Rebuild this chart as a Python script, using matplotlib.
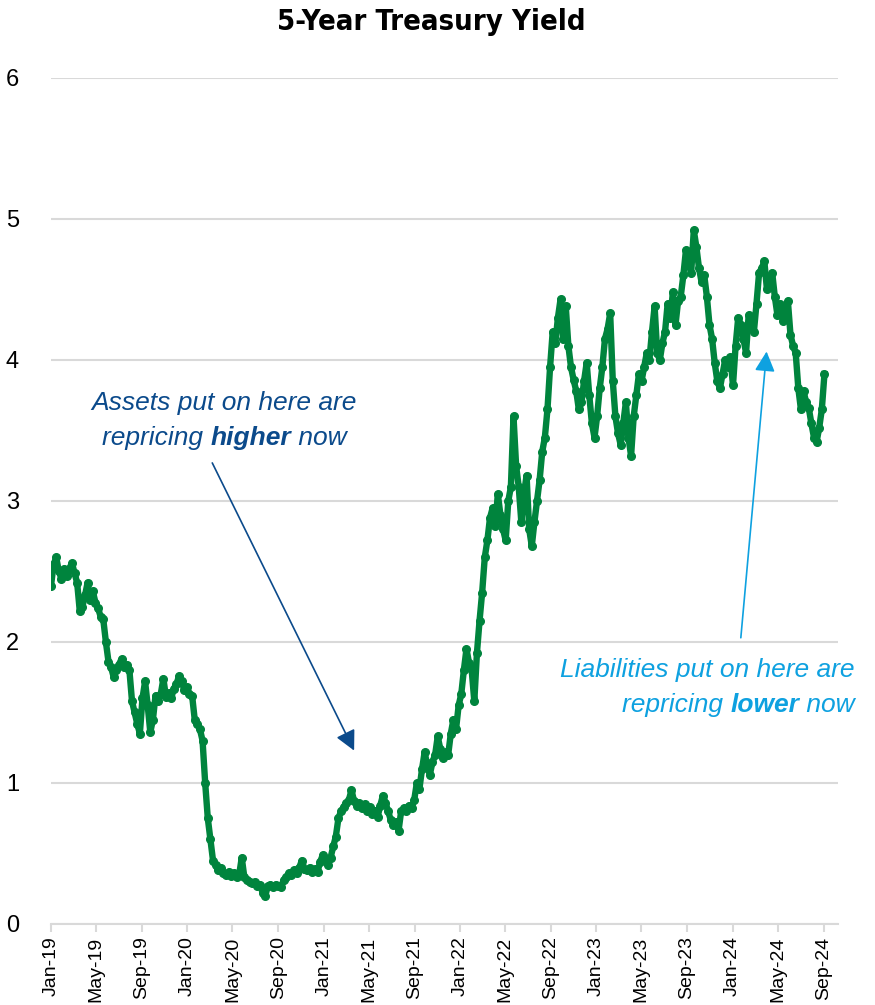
import numpy as np
import pandas as pd
import matplotlib
matplotlib.use("Agg")
import matplotlib.pyplot as plt
import matplotlib.dates as mdates
from matplotlib import font_manager
from matplotlib.offsetbox import TextArea, HPacker, VPacker, AnnotationBbox

# weekly 5-year treasury yield, %
y2019 = [2.40, 2.55, 2.60, 2.50, 2.45, 2.52, 2.47, 2.52, 2.56, 2.49, 2.42, 2.22, 2.25,
         2.33, 2.42, 2.30, 2.36, 2.28, 2.24, 2.18, 2.16, 2.00, 1.86, 1.82, 1.75, 1.80,
         1.84, 1.88, 1.82, 1.84, 1.80, 1.58, 1.50, 1.42, 1.35, 1.60, 1.72, 1.55, 1.36,
         1.45, 1.62, 1.58, 1.63, 1.74, 1.61, 1.64, 1.60, 1.67, 1.70, 1.76, 1.72, 1.66]
y2020 = [1.68, 1.63, 1.62, 1.45, 1.42, 1.38, 1.30, 1.00, 0.75, 0.60, 0.45, 0.42, 0.38,
         0.40, 0.36, 0.35, 0.37, 0.34, 0.36, 0.33, 0.35, 0.47, 0.33, 0.31, 0.30, 0.29,
         0.30, 0.27, 0.28, 0.22, 0.20, 0.27, 0.28, 0.26, 0.28, 0.27, 0.26, 0.31, 0.33,
         0.36, 0.35, 0.38, 0.36, 0.40, 0.45, 0.39, 0.38, 0.40, 0.37, 0.39, 0.37, 0.44]
y2021 = [0.49, 0.46, 0.42, 0.47, 0.55, 0.62, 0.75, 0.80, 0.83, 0.86, 0.88, 0.95, 0.87,
         0.84, 0.86, 0.82, 0.85, 0.80, 0.83, 0.78, 0.80, 0.76, 0.84, 0.91, 0.86, 0.80,
         0.74, 0.70, 0.72, 0.66, 0.80, 0.82, 0.80, 0.84, 0.82, 0.88, 1.00, 0.96, 1.10,
         1.22, 1.12, 1.06, 1.15, 1.20, 1.33, 1.24, 1.18, 1.22, 1.20, 1.35, 1.45, 1.38]
y2022 = [1.55, 1.63, 1.80, 1.95, 1.85, 1.80, 1.58, 1.92, 2.15, 2.35, 2.60, 2.72, 2.88,
         2.95, 2.82, 3.05, 2.90, 2.80, 2.72, 3.00, 3.10, 3.60, 3.25, 3.10, 2.85, 3.05,
         3.18, 2.80, 2.68, 2.85, 3.00, 3.15, 3.35, 3.45, 3.65, 3.95, 4.20, 4.12, 4.30,
         4.43, 4.15, 4.38, 4.10, 3.95, 3.86, 3.78, 3.65, 3.70, 3.85, 3.98, 3.75, 3.55]
y2023 = [3.45, 3.60, 3.80, 3.95, 4.15, 4.22, 4.33, 3.85, 3.60, 3.48, 3.40, 3.55, 3.70,
         3.45, 3.32, 3.60, 3.75, 3.90, 3.85, 3.95, 4.05, 4.00, 4.20, 4.38, 4.05, 4.00,
         4.12, 4.20, 4.40, 4.30, 4.48, 4.25, 4.42, 4.45, 4.60, 4.78, 4.68, 4.62, 4.92,
         4.80, 4.65, 4.55, 4.60, 4.45, 4.25, 4.15, 3.98, 3.85, 3.80, 3.90, 4.00, 3.95]
y2024 = [4.02, 3.82, 4.10, 4.30, 4.25, 4.15, 4.05, 4.32, 4.28, 4.20, 4.40, 4.62, 4.65,
         4.70, 4.50, 4.55, 4.62, 4.45, 4.32, 4.40, 4.28, 4.35, 4.42, 4.18, 4.10, 4.05,
         3.80, 3.65, 3.78, 3.70, 3.66, 3.55, 3.45, 3.42, 3.52, 3.65, 3.90]

yields = np.array(y2019 + y2020 + y2021 + y2022 + y2023 + y2024)
weeks = pd.date_range("2019-01-01", periods=len(yields), freq="7D")

green = "#00843d"
navy = "#0b4a8b"
sky = "#0ea1e0"
grid = "#d9d9d9"

# narrow bold face for the title if one is around
title_font = dict(family=["Liberation Sans", "DejaVu Sans"], fontsize=22)
cond = font_manager.FontProperties(family="DejaVu Sans", stretch="condensed",
                                   weight="bold")
if "Condensed" in font_manager.findfont(cond, fallback_to_default=False):
    title_font = dict(family=["DejaVu Sans"], stretch="condensed", fontsize=21)

fig = plt.figure(figsize=(8.75, 10.05), dpi=100)
ax = fig.add_axes([0.0583, 0.0806, 0.8997, 0.8418])

ax.plot(weeks, yields, color=green, lw=4.6, marker="o", ms=5.5,
        solid_joinstyle="round", zorder=3)

ax.set_ylim(0, 6)
ax.set_yticks(range(0, 7))
ax.set_xlim(pd.Timestamp("2019-01-01"), pd.Timestamp("2024-10-10"))
ax.xaxis.set_major_locator(mdates.MonthLocator(bymonth=[1, 5, 9]))
ax.xaxis.set_major_formatter(mdates.DateFormatter("%b-%y"))

ax.grid(axis="y", color=grid, lw=1.5)
ax.set_axisbelow(True)
for side in ["top", "right", "left"]:
    ax.spines[side].set_visible(False)
ax.spines["bottom"].set_color(grid)
ax.spines["bottom"].set_linewidth(1.5)
ax.tick_params(axis="y", length=0, pad=23, labelsize=17)
ax.tick_params(axis="x", length=6, width=1.5, color=grid, labelsize=14,
               labelrotation=90, pad=3)
for lbl in ax.get_yticklabels() + ax.get_xticklabels():
    lbl.set_family(["Liberation Sans", "DejaVu Sans"])

fig.text(0.4926, 0.978, "5-Year Treasury Yield", ha="center", va="center",
         fontweight="bold", **title_font)


def note(lines, color, xy, align, box_align):
    rows = []
    for parts in lines:
        areas = []
        for txt, bold in parts:
            areas.append(TextArea(txt, textprops=dict(
                color=color, fontsize=19, style="italic",
                weight="bold" if bold else "normal",
                family=["Liberation Sans", "DejaVu Sans"])))
        rows.append(HPacker(children=areas, pad=0, sep=0, align="baseline"))
    box = VPacker(children=rows, pad=0, sep=8, align=align)
    ab = AnnotationBbox(box, xy, xycoords="data", frameon=False,
                        box_alignment=box_align, annotation_clip=False)
    ax.add_artist(ab)


def d(s):
    return mdates.date2num(pd.Timestamp(s))


note([[("Assets put on here are", False)],
      [("repricing ", False), ("higher", True), (" now", False)]],
     navy, (d("2020-04-09"), 3.57), "center", (0.5, 0.5))
note([[("Liabilities put on here are", False)],
      [("repricing ", False), ("lower", True), (" now", False)]],
     sky, (d("2024-11-23"), 1.68), "right", (1.0, 0.5))

arrow = "-|>,head_length=0.55,head_width=0.28"
ax.annotate("", xy=(d("2021-03-23"), 1.23), xytext=(d("2020-03-08"), 3.27),
            arrowprops=dict(arrowstyle=arrow, color=navy, lw=1.2,
                            mutation_scale=22, shrinkA=0, shrinkB=0))
ax.annotate("", xy=(d("2024-04-01"), 4.06), xytext=(d("2024-01-23"), 2.03),
            arrowprops=dict(arrowstyle=arrow, color=sky, lw=1.2,
                            mutation_scale=22, shrinkA=0, shrinkB=0))

fig.savefig("out.png", dpi=100, facecolor="white")
